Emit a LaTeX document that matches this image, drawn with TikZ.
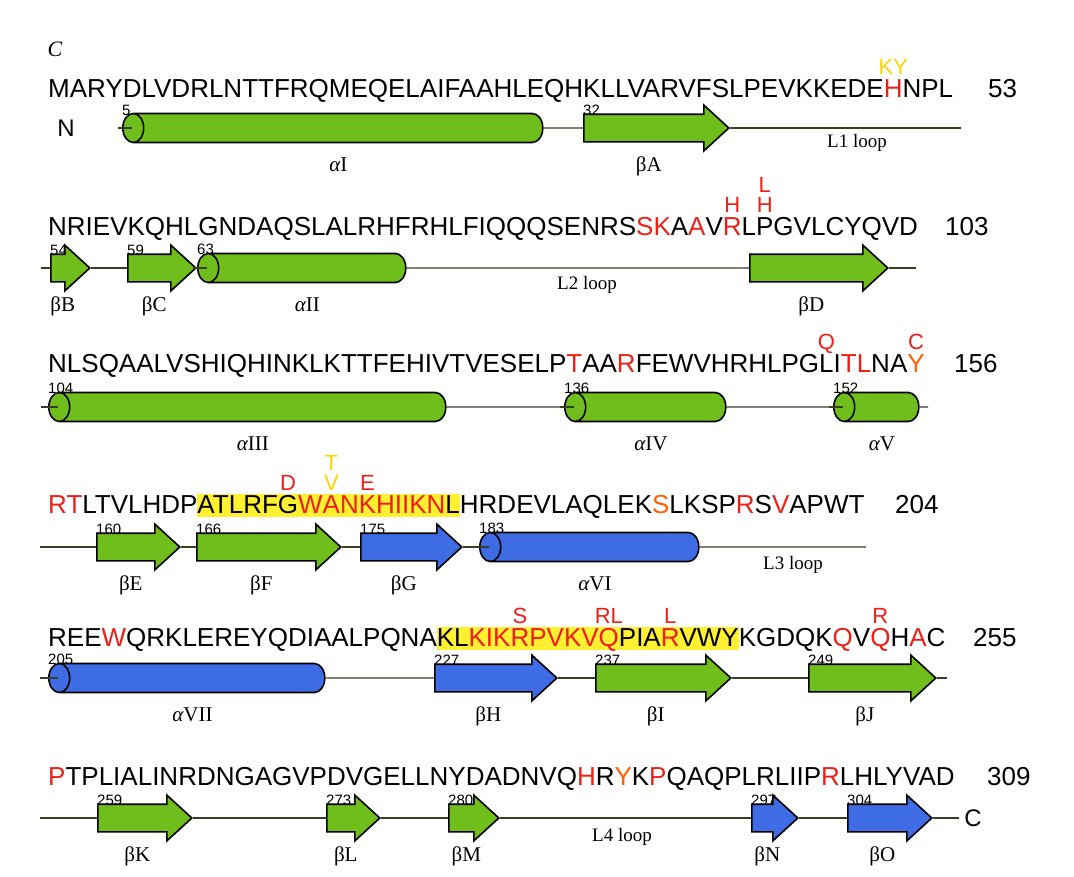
\documentclass[tikz,border=0pt]{standalone}
\usepackage{fontspec}
\setmainfont{Liberation Serif}
\newfontfamily\seqfont{Liberation Sans}
\usetikzlibrary{shapes.geometric, shapes.arrows, positioning}

\definecolor{sgreen}{RGB}{112,190,28}
\definecolor{sblue}{RGB}{62,108,228}
\definecolor{bbline}{RGB}{55,62,35}
\definecolor{mred}{RGB}{236,32,22}
\definecolor{morange}{RGB}{255,96,0}
\definecolor{myellow}{RGB}{252,212,0}
\definecolor{hlyellow}{RGB}{255,240,50}

\newcommand{\rd}[1]{\textcolor{mred}{#1}}
\newcommand{\og}[1]{\textcolor{morange}{#1}}
\newcommand{\yl}[1]{\textcolor{myellow}{#1}}
\newcommand{\hl}[1]{{\setlength{\fboxsep}{0pt}\colorbox{hlyellow}{\rule[-4pt]{0pt}{23pt}#1}}}
\newcommand{\mut}[3][23pt]{\ooalign{#2\cr\hidewidth\smash{\raisebox{#1}{\fontsize{22}{24}\selectfont #3}}\hidewidth\cr}}

\begin{document}
\begin{tikzpicture}[x=1pt, y=-1pt,
  seq/.style={font=\seqfont\fontsize{26}{30}\selectfont, inner sep=0pt, anchor=base west},
  term/.style={font=\seqfont\fontsize{24}{28}\selectfont, inner sep=0pt},
  bb/.style={draw=bbline, line width=1.3pt},
  helix/.style={cylinder, shape border rotate=180, draw=black, line width=1.6pt, cylinder uses custom fill, cylinder body fill=#1, cylinder end fill=#1, minimum width=29pt, aspect=0.72, inner sep=0pt, anchor=west, execute at begin node={\rule[-14.5pt]{0pt}{29pt}}},
  strand/.style={single arrow, draw=black, line width=1.6pt, fill=#1, minimum width=44pt, single arrow head extend=9pt, single arrow tip angle=85, inner sep=0pt, anchor=west, execute at begin node={\rule[-13pt]{0pt}{26pt}}},
  len/.style={minimum height=#1},
  startno/.style={font=\seqfont\fontsize{15}{17}\selectfont, inner sep=0pt, anchor=base west},
  sse/.style={font=\fontsize{21}{24}\selectfont, inner sep=0pt, anchor=base},
  looplab/.style={font=\fontsize{19}{22}\selectfont, inner sep=0pt, anchor=base},
]
\useasboundingbox (0,0) rectangle (1074,876);
\node[font=\itshape\fontsize{22}{26}\selectfont, inner sep=0pt] (panel) at (55,49) {C};

% row 1: 1-53
\node[seq] (s1) at (48,97) {MARYDLVDRLNTTFRQMEQELAIFAAHLEQHKLLVARVFSLPEVKKEDE\mut{\rd{H}}{\yl{KY}}NPL};
\node[seq] (n1) at (988,97) {53};
\node[term] (nt) at (66,128) {N};
\node[helix=sgreen, len=420pt] (a1) at (122,128) {};
\node[strand=sgreen, len=145pt] (bA) at (583,128) {};
\coordinate (r1b) at (961,128);
\draw[bb] (a1) -- (bA);
\draw[bb] (bA) -- (r1b);
\draw[bb] ([xshift=-4pt]a1.west) -- ([xshift=10pt]a1.west);
\node[startno] at (a1.west |- 0,115) {5};
\node[startno] at (bA.west |- 0,115) {32};
\node[sse] at (a1 |- 0,171) {{\itshape α}I};
\node[sse] at (bA |- 0,171) {βA};
\node[looplab] at (857,147) {L1 loop};

% row 2: 54-103
\node[seq] (s2) at (48,235) {NRIEVKQHLGNDAQSLALRHFRHLFIQQQSENRS\rd{SK}A\rd{A}V\mut{\rd{R}}{\rd{H}}L\mut[43pt]{\mut{P}{\rd{H}}}{\rd{L}}GVLCYQVD};
\node[seq] (n2) at (945,235) {103};
\coordinate (r2a) at (41,268);
\node[strand=sgreen, len=39pt] (bB) at (50,268) {};
\node[strand=sgreen, len=68pt] (bC) at (127,268) {};
\node[helix=sgreen, len=208pt] (a2) at (197,268) {};
\node[strand=sgreen, len=138pt] (bD) at (749,268) {};
\coordinate (r2b) at (916,268);
\draw[bb] (r2a) -- (bB);
\draw[bb] (bB) -- (bC);
\draw[bb] (a2) -- (bD);
\draw[bb] (bD) -- (r2b);
\draw[bb] ([xshift=-4pt]a2.west) -- ([xshift=10pt]a2.west);
\node[startno] at (bB.west |- 0,255) {54};
\node[startno] at (bC.west |- 0,255) {59};
\node[startno] at (a2.west |- 0,254) {63};
\node[sse] at (bB |- 0,311) {βB};
\node[sse] at (bC |- 0,311) {βC};
\node[sse] at (a2 |- 0,311) {{\itshape α}II};
\node[sse] at (bD |- 0,311) {βD};
\node[looplab] at (587,289) {L2 loop};

% row 3: 104-156
\node[seq] (s3) at (48,372) {NLSQAALVSHIQHINKLKTTFEHIVTVESELP\rd{T}AA\rd{R}FEWVHRHLPG\mut{L}{\rd{Q}}I\rd{TL}NA\mut{\og{Y}}{\rd{C}}};
\node[seq] (n3) at (954,372) {156};
\coordinate (r3a) at (41,407);
\node[helix=sgreen, len=397pt] (a3) at (48,407) {};
\node[helix=sgreen, len=161pt] (a4) at (564,407) {};
\node[helix=sgreen, len=85pt] (a5) at (833,407) {};
\coordinate (r3b) at (928,407);
\draw[bb] (r3a) -- (a3);
\draw[bb] (a3) -- (a4);
\draw[bb] (a4) -- (a5);
\draw[bb] (a5) -- (r3b);
\draw[bb] ([xshift=-4pt]a3.west) -- ([xshift=10pt]a3.west);
\draw[bb] ([xshift=-4pt]a4.west) -- ([xshift=10pt]a4.west);
\draw[bb] ([xshift=-4pt]a5.west) -- ([xshift=10pt]a5.west);
\node[startno] at (a3.west |- 0,393) {104};
\node[startno] at (a4.west |- 0,393) {136};
\node[startno] at (a5.west |- 0,393) {152};
\node[sse] at (a3 |- 0,450) {{\itshape α}III};
\node[sse] at (a4 |- 0,450) {{\itshape α}IV};
\node[sse] at (a5 |- 0,450) {{\itshape α}V};

% row 4: 157-204
\node[seq] (s4) at (48,513) {\rd{RT}LTVLHDP\hl{ATLRF\mut{G}{\rd{D}}\rd{W\mut[43pt]{\mut{A}{\yl{V}}}{\yl{T}}N\mut{K}{\rd{E}}HIIKN}L}HRDEVLAQLEK\og{S}LKSP\rd{R}S\rd{V}APWT};
\node[seq] (n4) at (895,513) {204};
\coordinate (r4a) at (40,547);
\node[strand=sgreen, len=83pt] (bE) at (96,547) {};
\node[strand=sgreen, len=144pt] (bF) at (196,547) {};
\node[strand=sblue, len=101pt] (bG) at (360,547) {};
\node[helix=sblue, len=219pt] (a6) at (479,547) {};
\coordinate (r4b) at (866,547);
\draw[bb] (r4a) -- (bE);
\draw[bb] (bE) -- (bF);
\draw[bb] (bF) -- (bG);
\draw[bb] (bG) -- (a6);
\draw[bb] (a6) -- (r4b);
\draw[bb] ([xshift=-4pt]a6.west) -- ([xshift=10pt]a6.west);
\node[startno] at (bE.west |- 0,534) {160};
\node[startno] at (bF.west |- 0,534) {166};
\node[startno] at (bG.west |- 0,534) {175};
\node[startno] at (a6.west |- 0,533) {183};
\node[sse] at (bE |- 0,590) {βE};
\node[sse] at (bF |- 0,590) {βF};
\node[sse] at (bG |- 0,590) {βG};
\node[sse] at (a6 |- 0,590) {{\itshape α}VI};
\node[looplab] at (793,569) {L3 loop};

% row 5: 205-255
\node[seq] (s5) at (48,646) {REE\rd{W}QRKLEREYQDIAALPQNA\hl{KL\rd{KIK\mut{R}{S}PVKV\mut{Q}{RL}}PIA\mut{\rd{R}}{\rd{L}}VWY}KGDQK\rd{Q}V\mut{\rd{Q}}{\rd{R}}H\rd{A}C};
\node[seq] (n5) at (973,646) {255};
\coordinate (r5a) at (40,678);
\node[helix=sblue, len=276pt] (a7) at (48,678) {};
\node[strand=sblue, len=122pt] (bH) at (434,678) {};
\node[strand=sgreen, len=135pt] (bI) at (595,678) {};
\node[strand=sgreen, len=127pt] (bJ) at (808,678) {};
\coordinate (r5b) at (947,678);
\draw[bb] (r5a) -- (a7);
\draw[bb] (a7) -- (bH);
\draw[bb] (bH) -- (bI);
\draw[bb] (bI) -- (bJ);
\draw[bb] (bJ) -- (r5b);
\draw[bb] ([xshift=-4pt]a7.west) -- ([xshift=10pt]a7.west);
\node[startno] at (a7.west |- 0,664) {205};
\node[startno] at (bH.west |- 0,665) {227};
\node[startno] at (bI.west |- 0,665) {237};
\node[startno] at (bJ.west |- 0,665) {249};
\node[sse] at (a7 |- 0,721) {{\itshape α}VII};
\node[sse] at (bH |- 0,721) {βH};
\node[sse] at (bI |- 0,721) {βI};
\node[sse] at (bJ |- 0,721) {βJ};

% row 6: 256-309
\node[seq] (s6) at (48,785) {\rd{P}TPLIALINRDNGAGVPDVGELLNYDADNVQ\rd{H}R\og{Y}K\rd{P}QAQPLRLIIP\rd{R}LHLYVAD};
\node[seq] (n6) at (987,785) {309};
\coordinate (r6a) at (40,818);
\node[strand=sgreen, len=94pt] (bK) at (97,818) {};
\node[strand=sgreen, len=53pt] (bL) at (326,818) {};
\node[strand=sgreen, len=50pt] (bM) at (448,818) {};
\node[strand=sblue, len=46pt] (bN) at (751,818) {};
\node[strand=sblue, len=84pt] (bO) at (847,818) {};
\coordinate (r6b) at (959,818);
\node[term] (ct) at (973,818) {C};
\draw[bb] (r6a) -- (bK);
\draw[bb] (bK) -- (bL);
\draw[bb] (bL) -- (bM);
\draw[bb] (bM) -- (bN);
\draw[bb] (bN) -- (bO);
\draw[bb] (bO) -- (r6b);
\node[startno] at (bK.west |- 0,805) {259};
\node[startno] at (bL.west |- 0,805) {273};
\node[startno] at (bM.west |- 0,805) {280};
\node[startno] at (bN.west |- 0,805) {297};
\node[startno] at (bO.west |- 0,805) {304};
\node[sse] at (bK |- 0,861) {βK};
\node[sse] at (bL |- 0,861) {βL};
\node[sse] at (bM |- 0,861) {βM};
\node[sse] at (bN |- 0,861) {βN};
\node[sse] at (bO |- 0,861) {βO};
\node[looplab] at (622,841) {L4 loop};
\end{tikzpicture}
\end{document}
